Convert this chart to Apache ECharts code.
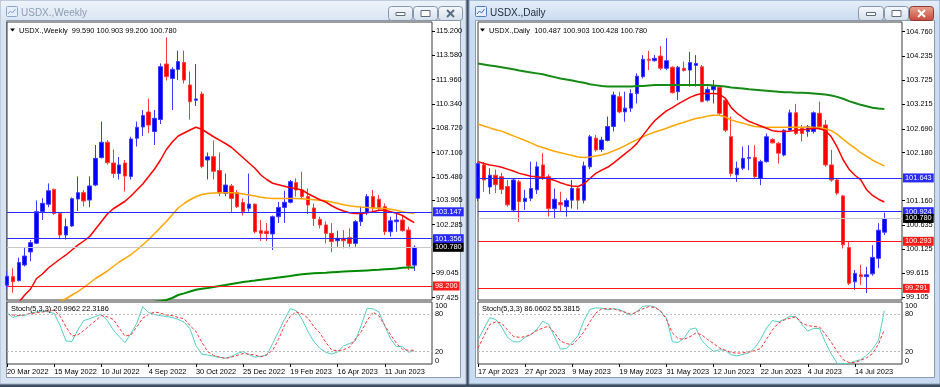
<!DOCTYPE html>
<html><head><meta charset="utf-8">
<script src="https://cdn.jsdelivr.net/npm/echarts@6/dist/echarts.min.js"></script>
<style>html,body{margin:0;padding:0;background:#3e4d61;}#c{width:940px;height:387px;}</style>
</head><body><div id="c"></div>
<script>
const FONT = "'Liberation Sans',Arial,sans-serif";
const FS = 7.4;

// ---------- WEEKLY ----------
const weeklyDates = ['20 Mar 2022','27 Mar 2022','3 Apr 2022','10 Apr 2022','17 Apr 2022','24 Apr 2022','1 May 2022','8 May 2022','15 May 2022','22 May 2022',
'29 May 2022','5 Jun 2022','12 Jun 2022','19 Jun 2022','26 Jun 2022','3 Jul 2022','10 Jul 2022','17 Jul 2022','24 Jul 2022','31 Jul 2022',
'7 Aug 2022','14 Aug 2022','21 Aug 2022','28 Aug 2022','4 Sep 2022','11 Sep 2022','18 Sep 2022','25 Sep 2022','2 Oct 2022','9 Oct 2022',
'16 Oct 2022','23 Oct 2022','30 Oct 2022','6 Nov 2022','13 Nov 2022','20 Nov 2022','27 Nov 2022','4 Dec 2022','11 Dec 2022','18 Dec 2022',
'25 Dec 2022','1 Jan 2023','8 Jan 2023','15 Jan 2023','22 Jan 2023','29 Jan 2023','5 Feb 2023','12 Feb 2023','19 Feb 2023','26 Feb 2023',
'5 Mar 2023','12 Mar 2023','19 Mar 2023','26 Mar 2023','2 Apr 2023','9 Apr 2023','16 Apr 2023','23 Apr 2023','30 Apr 2023','7 May 2023',
'14 May 2023','21 May 2023','28 May 2023','4 Jun 2023','11 Jun 2023','18 Jun 2023','25 Jun 2023','2 Jul 2023','9 Jul 2023','16 Jul 2023'];
const weeklyOpen = [98.25,98.82,98.56,99.6,100.47,101.05,103.16,103.65,104.64,103.04,
101.6,102.2,104.0,104.42,103.93,104.93,106.76,107.78,106.4,105.7,
106.4,105.5,108.05,108.8,109.8,108.5,109.3,113.0,112.04,112.64,
113.1,111.6,110.58,111.0,106.6,106.82,105.9,104.38,104.87,104.42,
103.76,103.38,103.66,101.89,101.85,101.67,102.82,103.44,103.78,105.09,
104.6,104.16,103.4,102.64,102.27,101.71,101.22,101.38,101.42,101.04,
102.49,103.09,104.16,103.98,103.49,101.82,102.49,102.6,101.93,99.59];
const weeklyHigh = [99.2,99.38,100.1,100.78,101.27,103.9,104.05,105.04,104.7,103.1,
102.7,104.1,105.5,104.6,105.5,107.6,109.16,107.93,107.3,106.8,
106.6,108.15,109.16,109.93,110.7,109.93,113.04,114.78,112.78,113.89,
113.89,112.5,113.0,111.16,107.1,107.9,107.1,105.7,105.0,104.6,
104.04,105.7,103.7,102.6,102.4,102.9,103.8,104.55,105.27,105.38,
105.82,104.7,103.7,102.82,102.5,102.4,101.89,101.93,102.04,102.6,
103.49,104.33,104.6,104.27,103.71,102.82,103.04,102.86,102.16,100.903];
const weeklyLow = [98.0,97.75,98.5,99.5,99.85,101.0,102.6,103.45,102.95,101.4,
101.3,102.15,103.2,103.5,103.45,104.85,106.7,106.3,105.4,105.3,
104.5,105.3,107.5,108.2,108.4,107.6,109.0,111.9,109.93,111.93,
111.7,109.3,110.2,106.05,105.3,105.3,104.2,104.2,103.1,103.4,
102.9,103.16,101.7,101.2,101.2,100.6,102.4,102.4,103.7,104.16,
104.0,103.0,102.2,102.04,101.04,100.45,100.82,100.71,100.71,100.82,
102.2,102.93,103.16,103.27,101.6,101.49,101.82,101.82,99.27,99.2];
const weeklyClose = [98.85,98.49,99.76,100.2,101.09,103.16,103.71,104.55,103.04,101.6,
102.16,104.02,104.42,103.87,104.87,106.71,107.78,106.42,105.7,106.27,
105.53,108.0,108.78,109.56,108.93,109.38,112.82,112.16,112.64,113.16,
111.93,110.49,110.67,106.16,106.82,105.85,104.4,104.93,104.04,103.49,
103.16,103.66,101.82,101.71,101.7,102.82,103.44,103.78,105.16,104.6,
104.16,103.6,102.7,102.27,101.71,101.16,101.38,101.22,101.04,102.49,
103.09,104.16,103.44,103.44,101.82,102.55,102.6,101.89,99.53,100.78];
const weeklyMaRed = [96.3,96.7,97.1,97.6,98.0,98.7,99.0,99.4,99.7,100.0,
100.27,100.6,100.93,101.2,101.5,102.0,102.5,103.0,103.35,103.6,
103.85,104.2,104.6,105.0,105.5,106.0,106.6,107.3,107.8,108.2,
108.4,108.6,108.78,108.65,108.4,108.15,107.93,107.7,107.45,107.1,
106.75,106.4,106.05,105.6,105.3,105.05,104.95,104.85,104.75,104.68,
104.6,104.35,104.15,103.95,103.8,103.55,103.35,103.2,103.09,103.04,
103.04,103.09,103.15,103.25,103.25,103.15,103.05,102.9,102.65,102.42];
const weeklyMaOrange = [95.0,95.3,95.6,95.9,96.2,96.5,96.7,96.9,97.05,97.2,
97.35,97.6,97.82,98.1,98.4,98.7,98.95,99.2,99.5,99.8,
100.04,100.3,100.6,100.95,101.3,101.7,102.1,102.5,102.95,103.4,
103.7,103.95,104.15,104.3,104.36,104.4,104.42,104.42,104.42,104.4,
104.34,104.27,104.2,104.12,104.06,104.04,104.04,104.04,104.04,104.04,
104.02,103.98,103.95,103.92,103.88,103.8,103.72,103.62,103.55,103.5,
103.46,103.43,103.4,103.38,103.36,103.32,103.25,103.15,103.08,103.04];
const weeklyMaGreen = [94.5,94.6,94.7,94.8,94.9,95.0,95.1,95.2,95.35,95.5,
95.6,95.7,95.85,96.0,96.1,96.2,96.35,96.5,96.6,96.7,
96.8,96.9,97.0,97.05,97.1,97.15,97.2,97.27,97.4,97.6,
97.71,97.83,97.95,98.02,98.07,98.14,98.2,98.26,98.33,98.4,
98.47,98.51,98.56,98.62,98.66,98.71,98.77,98.82,98.87,98.93,
98.98,99.02,99.05,99.07,99.09,99.12,99.14,99.16,99.18,99.2,
99.22,99.24,99.26,99.28,99.31,99.34,99.37,99.41,99.43,99.44];
const weeklyStochMain = [82.7,75,78,78,82,84,85.4,84,81.6,62,
37,36.3,55,70,73,77,80,70,55,44,
34.7,49,66,92.5,83,80,78,76.5,75,72,
67.4,57,30,16,14.5,12.5,10.7,9.5,12,17,
20,15,11,12.5,14,33,52,72,89.2,86,
72,52,36,25.4,19,16,19.5,29,33,37,
62,90,89,84,62,40,28,28,19,21];
const weeklyStochSignal = [80,79,78,79.7,81.2,82.6,83.8,85.4,87,77,
60,45,47,54,62,70,78,76,72,58,
45,47,60,74,80,84,82,79,78,75,
73,62,52.7,35,20,14,11,9,11,14,
17,16,14.5,11.5,15,22,40,62,77,84,
81,74,60,50,35,22.7,21.5,23,27,40,
52,70,83.5,78,62,47,33,24,22,22.3];
const weeklyPriceTicks = [115.2,113.58,111.96,110.34,108.72,107.1,105.48,103.905,102.285,99.045,97.425];
const weeklyBlueLevels = [103.147,101.356];
const weeklyRedLevels = [98.2];
const weeklyLast = 100.78;

// ---------- DAILY ----------
const dailyDates = ['17 Apr 2023','18 Apr 2023','19 Apr 2023','20 Apr 2023','21 Apr 2023','24 Apr 2023','25 Apr 2023','26 Apr 2023','27 Apr 2023','28 Apr 2023',
'1 May 2023','2 May 2023','3 May 2023','4 May 2023','5 May 2023','8 May 2023','9 May 2023','10 May 2023','11 May 2023','12 May 2023',
'15 May 2023','16 May 2023','17 May 2023','18 May 2023','19 May 2023','22 May 2023','23 May 2023','24 May 2023','25 May 2023','26 May 2023',
'29 May 2023','30 May 2023','31 May 2023','1 Jun 2023','2 Jun 2023','5 Jun 2023','6 Jun 2023','7 Jun 2023','8 Jun 2023','9 Jun 2023',
'12 Jun 2023','13 Jun 2023','14 Jun 2023','15 Jun 2023','16 Jun 2023','19 Jun 2023','20 Jun 2023','21 Jun 2023','22 Jun 2023','23 Jun 2023',
'26 Jun 2023','27 Jun 2023','28 Jun 2023','29 Jun 2023','30 Jun 2023','3 Jul 2023','4 Jul 2023','5 Jul 2023','6 Jul 2023','7 Jul 2023',
'10 Jul 2023','11 Jul 2023','12 Jul 2023','13 Jul 2023','14 Jul 2023','17 Jul 2023','18 Jul 2023','19 Jul 2023','20 Jul 2023','21 Jul 2023'];
const dailyOpen = [101.21,101.92,101.45,101.7,101.67,101.46,100.96,101.56,101.14,101.21,
101.39,101.92,101.67,100.99,101.12,101.03,101.17,101.42,101.17,101.88,
102.49,102.25,102.44,102.74,103.37,103.05,103.13,103.44,103.8,104.17,
104.14,104.24,103.98,104.0,103.48,103.98,103.94,104.04,104.01,103.3,
103.52,103.57,103.3,102.52,101.71,101.85,102.06,102.08,101.63,101.99,
102.46,102.38,102.13,102.66,103.03,102.7,102.63,102.63,103.02,102.77,
101.92,101.6,101.26,100.16,99.43,99.58,99.54,99.6,99.93,100.487];
const dailyHigh = [101.98,101.98,101.85,101.82,101.75,101.6,101.64,101.6,101.39,101.99,
101.99,102.17,101.72,101.42,101.35,101.21,101.6,101.46,101.99,102.56,
102.56,102.52,102.95,103.48,103.48,103.48,103.53,103.87,104.26,104.35,
104.26,104.45,104.62,104.02,104.03,104.12,104.33,104.26,104.05,103.59,
103.73,103.59,103.32,102.95,101.99,102.31,102.34,102.34,102.03,102.59,
102.49,102.41,102.68,103.1,103.22,102.77,102.77,103.06,103.27,102.88,
102.24,101.64,101.28,100.29,99.68,99.79,99.75,100.21,100.68,100.903];
const dailyLow = [101.15,101.35,101.3,101.32,101.3,101.03,100.92,100.71,100.96,101.15,
101.3,101.6,100.82,100.78,100.92,100.82,100.99,100.97,101.1,101.83,
102.2,102.2,102.42,102.63,103.02,102.84,103.05,103.23,103.76,103.94,
104.12,103.94,103.94,103.44,103.3,103.91,103.59,103.59,103.25,103.27,
103.23,102.98,102.62,101.67,101.56,101.81,101.81,101.64,101.49,101.97,
102.38,101.95,102.1,102.63,102.56,102.42,102.52,102.59,102.67,101.88,
101.56,101.28,100.14,99.36,99.26,99.36,99.19,99.56,99.72,100.428];
const dailyClose = [101.95,101.6,101.7,101.5,101.4,101.07,101.6,101.14,101.21,101.42,
101.88,101.67,100.99,101.19,101.07,101.16,101.42,101.17,101.9,102.52,
102.24,102.45,102.74,103.41,103.05,103.13,103.44,103.81,104.17,104.15,
104.19,103.98,104.14,103.46,104.0,103.93,104.1,104.08,103.27,103.53,
103.6,103.02,102.66,101.74,101.85,102.06,102.08,101.67,101.99,102.52,
102.39,102.17,102.66,103.03,102.59,102.59,102.74,103.03,102.74,101.92,
101.6,101.32,100.22,99.4,99.61,99.54,99.58,99.95,100.53,100.78];
const dailyMaRed = [101.99,101.95,101.92,101.9,101.87,101.83,101.79,101.74,101.71,101.68,
101.67,101.65,101.63,101.59,101.54,101.5,101.47,101.46,101.52,101.63,
101.74,101.81,101.87,101.96,102.06,102.16,102.26,102.38,102.55,102.71,
102.86,102.97,103.07,103.14,103.22,103.29,103.36,103.41,103.44,103.44,
103.44,103.43,103.34,103.14,103.02,102.93,102.85,102.8,102.75,102.7,
102.65,102.63,102.63,102.64,102.66,102.67,102.68,102.7,102.69,102.65,
102.52,102.3,102.03,101.83,101.7,101.6,101.39,101.27,101.19,101.13];
const dailyMaOrange = [102.79,102.75,102.71,102.67,102.64,102.59,102.54,102.49,102.44,102.39,
102.33,102.29,102.25,102.21,102.18,102.15,102.12,102.09,102.08,102.09,
102.11,102.13,102.17,102.22,102.27,102.33,102.4,102.46,102.52,102.57,
102.62,102.66,102.7,102.75,102.79,102.83,102.87,102.91,102.93,102.96,
102.98,102.98,102.94,102.88,102.84,102.81,102.77,102.74,102.73,102.72,
102.72,102.72,102.72,102.72,102.72,102.72,102.72,102.72,102.71,102.69,
102.65,102.57,102.47,102.37,102.28,102.18,102.1,102.02,101.96,101.9];
const dailyMaGreen = [104.08,104.06,104.04,104.02,104.0,103.98,103.96,103.93,103.91,103.89,
103.87,103.85,103.82,103.79,103.76,103.74,103.72,103.69,103.67,103.64,
103.62,103.6,103.59,103.59,103.59,103.59,103.59,103.6,103.6,103.61,
103.62,103.62,103.62,103.62,103.62,103.62,103.62,103.62,103.62,103.62,
103.61,103.6,103.59,103.57,103.56,103.55,103.53,103.52,103.51,103.5,
103.49,103.48,103.47,103.47,103.46,103.46,103.45,103.44,103.43,103.42,
103.4,103.37,103.33,103.28,103.24,103.2,103.17,103.14,103.12,103.11];
const dailyStochMain = [39,57,74.5,72,60,43,36,35.5,43,47.5,
56,69,64,44,24,25,35,46,70,88,
90.5,90,87.5,89,88,83,79,85,93,94,
92.5,85,74.5,36,34.7,42,56,58,38,28,
20.5,23,22,15,13,15.5,18,26,40,58,
70,68,72,77,76,64,53,57.5,57,35,
16,1,0.9,0.9,4.5,7,14,24,38,86.06];
const dailyStochSignal = [25.4,45,63.6,68,66,55,44.5,43,44,48,
54,58,61,50,37,33,31,40,52,68,
82,89,89.2,89,86,83.5,80,84,89,92.5,
91,86,72,50,41,40,44,50,47,39.5,
33,26,22,18.5,17.5,18,19.5,21.5,25,40,
55,66,71,74,76,66,62,60.5,59.8,48,
35,20,7,2.5,2.5,6,10,17,32,55.38];
const dailyPriceTicks = [104.76,104.235,103.725,103.215,102.69,102.18,101.16,100.635,100.125,99.615,99.105];
const dailyBlueLevels = [101.643,100.924];
const dailyRedLevels = [100.293,99.291];
const dailyLast = 100.78;

const stochTicks = [0,20,80,100];
const stochLevels = [20,80];

// ---------- build ----------
const chart = echarts.init(document.getElementById('c'), null, {renderer:'canvas', width:940, height:387});
const EXTRA = ['', '', ''];
const txt = {fontFamily: FONT, fontSize: FS, color: '#000'};

function candleData(o,h,l,c){ return o.map((v,i)=>[v, c[i], l[i], h[i]]); }
function levels(blue, red, last){
  const d = [];
  blue.forEach(v=>d.push({yAxis:v, lineStyle:{color:'#2b2bff'}, label:{backgroundColor:'#2b2bff', color:'#fff'}}));
  red.forEach(v=>d.push({yAxis:v, lineStyle:{color:'#ff1a1a'}, label:{backgroundColor:'#ff1a1a', color:'#fff'}}));
  d.push({yAxis:last, lineStyle:{color:'#c8c8c8'}, label:{backgroundColor:'#000', color:'#fff'}});
  return {symbol:['none','none'], silent:true, animation:false, precision:3,
    lineStyle:{width:1, type:'solid'},
    label:{show:true, position:'end', distance:1, fontFamily:FONT, fontSize:FS, lineHeight:9, padding:[0,2,0,2],
      formatter:p=>Number(p.value).toFixed(3)},
    data:d};
}
const every8 = (idx)=> idx % 8 === 0 && idx < 70;

const grids = [], xAxes = [], yAxes = [], series = [];
function panel(left, width, cats, price, ma, stM, stS, ticks, blue, red, last){
  const g = grids.length;
  grids.push({left:left, top:22, width:width, height:278, show:true, borderColor:'#3a3a3a', borderWidth:1, backgroundColor:'transparent'});
  grids.push({left:left, top:302, width:width, height:62, show:true, borderColor:'#3a3a3a', borderWidth:1, backgroundColor:'transparent'});
  const allCats = cats.concat(EXTRA);
  xAxes.push({type:'category', gridIndex:g, data:allCats, boundaryGap:false, show:false});
  xAxes.push({type:'category', gridIndex:g+1, data:allCats, boundaryGap:false,
    axisLine:{show:false}, splitLine:{show:false},
    axisTick:{show:true, interval:every8, length:3, lineStyle:{color:'#000'}},
    axisLabel:Object.assign({interval:every8, align:'left', margin:4, showMinLabel:true, hideOverlap:false}, txt)});
  yAxes.push({type:'value', gridIndex:g, position:'right', min:price.min, max:price.max,
    splitLine:{show:false}, axisLine:{show:false},
    axisTick:{show:true, length:3, customValues:ticks, lineStyle:{color:'#000'}},
    axisLabel:Object.assign({customValues:ticks, margin:4, showMinLabel:true, showMaxLabel:true, formatter:v=>Number(v).toFixed(3)}, txt)});
  yAxes.push({type:'value', gridIndex:g+1, position:'right', min:0, max:100,
    splitLine:{show:false}, axisLine:{show:false}, axisTick:{show:false},
    axisLabel:Object.assign({customValues:stochTicks, margin:3, showMinLabel:true, showMaxLabel:true,
      verticalAlignMinLabel:'bottom', verticalAlignMaxLabel:'top', formatter:v=>String(v)}, txt)});
  series.push({type:'candlestick', xAxisIndex:g, yAxisIndex:g, data:price.data, barWidth:4, clip:true,
    itemStyle:{color:'#0000ff', color0:'#ff0000', borderColor:'#3a3aff', borderColor0:'#ff3a3a', borderWidth:1},
    markLine:levels(blue, red, last), z:3});
  ma.forEach(m=>series.push({type:'line', xAxisIndex:g, yAxisIndex:g, data:m.data, showSymbol:false, symbol:'none', clip:true,
    lineStyle:{color:m.color, width:m.width}, z:4}));
  series.push({type:'line', xAxisIndex:g+1, yAxisIndex:g+1, data:stM, showSymbol:false, symbol:'none',
    lineStyle:{color:'#52cfc6', width:1}, z:4,
    markLine:{symbol:['none','none'], silent:true, animation:false, label:{show:false},
      lineStyle:{color:'#b8b8b8', type:[2,2], width:1}, data:stochLevels.map(v=>({yAxis:v}))}});
  series.push({type:'line', xAxisIndex:g+1, yAxisIndex:g+1, data:stS, showSymbol:false, symbol:'none',
    lineStyle:{color:'#ff3030', width:1, type:[3,2]}, z:4});
}

panel(7, 425, weeklyDates,
  {min:97.267, max:115.8, data:candleData(weeklyOpen,weeklyHigh,weeklyLow,weeklyClose)},
  [{data:weeklyMaGreen, color:'#008a00', width:2},{data:weeklyMaOrange, color:'#ffa500', width:1.5},{data:weeklyMaRed, color:'#ff0000', width:1.5}],
  weeklyStochMain, weeklyStochSignal, weeklyPriceTicks, weeklyBlueLevels, weeklyRedLevels, weeklyLast);
panel(478, 424, dailyDates,
  {min:99.043, max:104.9645, data:candleData(dailyOpen,dailyHigh,dailyLow,dailyClose)},
  [{data:dailyMaGreen, color:'#158a15', width:2},{data:dailyMaOrange, color:'#ffa500', width:1.5},{data:dailyMaRed, color:'#ff0000', width:1.5}],
  dailyStochMain, dailyStochSignal, dailyPriceTicks, dailyBlueLevels, dailyRedLevels, dailyLast);

// ---------- window chrome ----------
const LG = echarts.graphic.LinearGradient;
const grad = (a,b)=> new LG(0,0,0,1,[{offset:0,color:a},{offset:1,color:b}]);
const els = [];
function windowChrome(x, w, title, active, btnX){
  els.push({type:'rect', z:-100, shape:{x:x, y:0, width:w, height:384}, style:{fill: active?'#c9dbf0':'#d8e4f2', stroke: active?'#8aa0bb':'#a3b3c6', lineWidth:1}});
  els.push({type:'rect', z:-99, shape:{x:x+1, y:1, width:w-2, height:19}, style:{fill: active?grad('#e4eef9','#cbdcf0'):grad('#edf3fa','#dbe6f3')}});
  els.push({type:'rect', z:-98, shape:{x:x+6.5, y:20.5, width:w-12, height:357}, style:{fill:'#ffffff', stroke:'#8b9cb2', lineWidth:1}});
  // icon
  els.push({type:'rect', z:10, shape:{x:x+6.5, y:6.5, width:11, height:10, r:1}, style:{fill:'#e6effa', stroke: active?'#4f7fc0':'#8aa6cc', lineWidth:1}});
  els.push({type:'polyline', z:11, shape:{points:[[x+8,14],[x+10.5,11],[x+12.5,13],[x+15.5,9]]}, style:{stroke: active?'#3a6fb8':'#86a3cb', lineWidth:1, fill:null}});
  els.push({type:'text', z:10, x:x+21, y:13.5, style:{text:title, fontFamily:FONT, fontSize:10, fill: active?'#1c2a3c':'#8c9cb0', verticalAlign:'middle'}});
  // buttons
  const kinds = ['min','max','close'];
  btnX.forEach((b,i)=>{
    const isClose = kinds[i]==='close';
    const red = isClose && active;
    els.push({type:'rect', z:10, shape:{x:b[0]+0.5, y:6.5, width:b[1], height:14, r:3},
      style:{fill: red?grad('#e9a592','#c7473b'):grad('#f7f9fc','#d5dfeb'), stroke: red?'#8e3b31':'#8596ad', lineWidth:1}});
    const cx = b[0] + b[1]/2 + 0.5;
    const gc = red ? '#ffffff' : '#5b6b80';
    if (kinds[i]==='min') els.push({type:'rect', z:11, shape:{x:cx-4.5, y:12.5, width:9, height:3}, style:{fill:'#ffffff', stroke:gc, lineWidth:1}});
    if (kinds[i]==='max') els.push({type:'rect', z:11, shape:{x:cx-4.5, y:10.5, width:9, height:6}, style:{fill:'#ffffff', stroke:gc, lineWidth:1}});
    if (isClose) {
      els.push({type:'line', z:11, shape:{x1:cx-3.5, y1:10, x2:cx+3.5, y2:17}, style:{stroke:gc, lineWidth:2}});
      els.push({type:'line', z:11, shape:{x1:cx+3.5, y1:10, x2:cx-3.5, y2:17}, style:{stroke:gc, lineWidth:2}});
    }
  });
}
windowChrome(0, 466, 'USDX.,Weekly', false, [[388,24],[413,24],[438,24]]);
windowChrome(469, 471, 'USDX.,Daily', true, [[858,25],[884,24],[909,24]]);

function header(x, text){
  els.push({type:'polygon', z:100, shape:{points:[[x,28.5],[x+5,28.5],[x+2.5,31.5]]}, style:{fill:'#000'}});
  els.push({type:'text', z:100, x:x+9, y:30.5, style:{text:text, fontFamily:FONT, fontSize:FS, fill:'#000', verticalAlign:'middle'}});
}
header(10, 'USDX.,Weekly  99.590 100.903 99.200 100.780');
header(480, 'USDX.,Daily  100.487 100.903 100.428 100.780');
els.push({type:'text', z:100, x:11, y:308.5, style:{text:'Stoch(5,3,3) 20.9962 22.3186', fontFamily:FONT, fontSize:FS, fill:'#000', verticalAlign:'middle'}});
els.push({type:'text', z:100, x:482, y:308.5, style:{text:'Stoch(5,3,3) 86.0602 55.3815', fontFamily:FONT, fontSize:FS, fill:'#000', verticalAlign:'middle'}});

chart.setOption({
  animation:false,
  backgroundColor:'#3e4d61',
  grid:grids, xAxis:xAxes, yAxis:yAxes, series:series,
  graphic:{elements:els}
});
</script></body></html>
